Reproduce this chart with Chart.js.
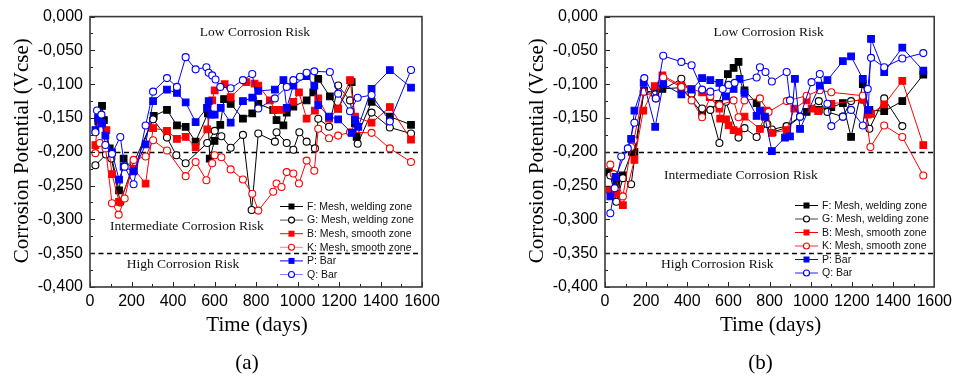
<!DOCTYPE html>
<html>
<head>
<meta charset="utf-8">
<script src="https://cdn.jsdelivr.net/npm/chart.js@4.4.1/dist/chart.umd.min.js"></script>
<style>
  html, body { margin: 0; padding: 0; background: #fff; }
  #wrap { position: relative; width: 957px; height: 378px; }
  canvas { position: absolute; top: 0; }
  #chartA { left: 0; }
  #chartB { left: 478px; }
</style>
</head>
<body>
<div id="wrap">
  <canvas id="chartA" width="478" height="378"></canvas>
  <canvas id="chartB" width="479" height="378"></canvas>
</div>
<script>
// [day, potential (V)]
const F_a = [[40,-0.155],[58,-0.132],[67,-0.153],[95,-0.195],[140,-0.257],[162,-0.210],[210,-0.227],[307,-0.147],[371,-0.138],[419,-0.161],[461,-0.163],[509,-0.185],[568,-0.143],[577,-0.210],[600,-0.184],[628,-0.160],[646,-0.122],[678,-0.129],[737,-0.151],[782,-0.143],[811,-0.129],[883,-0.138],[899,-0.153],[932,-0.161],[948,-0.142],[980,-0.133],[1044,-0.124],[1076,-0.112],[1100,-0.092],[1156,-0.118],[1196,-0.136],[1261,-0.097],[1277,-0.158],[1285,-0.178],[1357,-0.126],[1445,-0.148],[1547,-0.160]];
const G_a = [[26,-0.220],[77,-0.204],[103,-0.210],[146,-0.275],[210,-0.217],[304,-0.152],[371,-0.179],[416,-0.205],[461,-0.217],[565,-0.187],[601,-0.169],[633,-0.177],[678,-0.194],[737,-0.175],[779,-0.286],[811,-0.173],[891,-0.185],[899,-0.171],[948,-0.187],[980,-0.197],[1009,-0.171],[1044,-0.185],[1084,-0.195],[1100,-0.151],[1152,-0.163],[1196,-0.102],[1253,-0.124],[1290,-0.188],[1357,-0.142],[1445,-0.164],[1547,-0.173]];
const B_a = [[26,-0.190],[40,-0.150],[55,-0.158],[79,-0.168],[106,-0.233],[140,-0.274],[210,-0.225],[268,-0.247],[304,-0.165],[371,-0.169],[419,-0.181],[461,-0.178],[509,-0.193],[565,-0.167],[589,-0.124],[601,-0.109],[649,-0.100],[678,-0.119],[753,-0.097],[793,-0.099],[811,-0.102],[867,-0.124],[891,-0.138],[923,-0.138],[980,-0.126],[1007,-0.112],[1044,-0.151],[1084,-0.139],[1100,-0.121],[1152,-0.151],[1196,-0.136],[1253,-0.094],[1277,-0.148],[1357,-0.157],[1445,-0.134],[1547,-0.182]];
const K_a = [[26,-0.202],[47,-0.187],[75,-0.195],[106,-0.276],[138,-0.293],[167,-0.269],[210,-0.212],[268,-0.207],[304,-0.183],[371,-0.198],[461,-0.236],[509,-0.215],[561,-0.242],[589,-0.217],[601,-0.205],[633,-0.208],[678,-0.226],[737,-0.241],[782,-0.262],[811,-0.287],[883,-0.259],[899,-0.247],[923,-0.252],[948,-0.230],[980,-0.232],[1007,-0.247],[1044,-0.213],[1081,-0.228],[1100,-0.166],[1152,-0.180],[1196,-0.176],[1253,-0.171],[1357,-0.172],[1445,-0.195],[1547,-0.215]];
const P_a = [[26,-0.168],[39,-0.150],[58,-0.158],[74,-0.176],[106,-0.201],[140,-0.241],[162,-0.222],[210,-0.229],[268,-0.189],[304,-0.125],[371,-0.108],[419,-0.113],[461,-0.127],[509,-0.156],[564,-0.135],[572,-0.125],[584,-0.145],[601,-0.145],[630,-0.135],[678,-0.157],[737,-0.125],[782,-0.120],[811,-0.110],[891,-0.108],[932,-0.094],[948,-0.135],[980,-0.102],[1044,-0.088],[1081,-0.102],[1100,-0.131],[1152,-0.148],[1196,-0.152],[1261,-0.172],[1277,-0.153],[1293,-0.163],[1357,-0.107],[1445,-0.079],[1547,-0.105]];
const Q_a = [[26,-0.171],[34,-0.139],[55,-0.145],[74,-0.190],[106,-0.203],[146,-0.178],[167,-0.222],[210,-0.248],[268,-0.161],[304,-0.111],[371,-0.091],[419,-0.104],[461,-0.060],[509,-0.078],[561,-0.075],[572,-0.083],[589,-0.087],[605,-0.093],[628,-0.104],[678,-0.106],[737,-0.094],[782,-0.085],[811,-0.136],[891,-0.121],[948,-0.104],[980,-0.094],[1012,-0.089],[1044,-0.083],[1081,-0.081],[1156,-0.082],[1196,-0.114],[1253,-0.140],[1290,-0.120],[1357,-0.116],[1445,-0.155],[1547,-0.079]];

const F_b = [[19,-0.230],[55,-0.248],[87,-0.235],[130,-0.200],[143,-0.200],[190,-0.110],[244,-0.112],[279,-0.107],[371,-0.105],[472,-0.143],[552,-0.129],[597,-0.085],[625,-0.076],[649,-0.067],[678,-0.109],[737,-0.128],[780,-0.148],[814,-0.171],[883,-0.164],[980,-0.141],[1039,-0.138],[1100,-0.134],[1156,-0.128],[1196,-0.178],[1253,-0.100],[1285,-0.138],[1357,-0.140],[1445,-0.125],[1547,-0.086]];
const G_b = [[26,-0.235],[55,-0.274],[87,-0.239],[127,-0.248],[188,-0.111],[244,-0.115],[371,-0.092],[421,-0.114],[472,-0.136],[512,-0.138],[556,-0.187],[588,-0.126],[649,-0.179],[678,-0.165],[737,-0.178],[789,-0.159],[811,-0.167],[883,-0.162],[948,-0.148],[1039,-0.125],[1081,-0.141],[1156,-0.148],[1196,-0.125],[1253,-0.123],[1285,-0.166],[1357,-0.121],[1445,-0.162]];
const B_b = [[22,-0.256],[55,-0.262],[87,-0.279],[143,-0.212],[186,-0.139],[242,-0.103],[279,-0.087],[371,-0.102],[418,-0.107],[472,-0.112],[509,-0.119],[556,-0.136],[560,-0.151],[588,-0.152],[601,-0.161],[625,-0.168],[649,-0.170],[678,-0.148],[753,-0.166],[785,-0.139],[811,-0.172],[883,-0.168],[920,-0.136],[980,-0.124],[1004,-0.136],[1036,-0.140],[1100,-0.129],[1253,-0.123],[1277,-0.145],[1293,-0.144],[1357,-0.130],[1445,-0.095],[1547,-0.190]];
const K_b = [[26,-0.219],[42,-0.233],[87,-0.266],[127,-0.193],[140,-0.183],[188,-0.111],[247,-0.121],[283,-0.090],[371,-0.104],[421,-0.124],[472,-0.149],[512,-0.118],[556,-0.131],[625,-0.124],[649,-0.149],[678,-0.124],[753,-0.121],[795,-0.141],[883,-0.125],[980,-0.117],[1044,-0.109],[1100,-0.112],[1253,-0.117],[1290,-0.193],[1357,-0.161],[1445,-0.178],[1547,-0.235]];
const P_b = [[26,-0.266],[51,-0.237],[127,-0.181],[143,-0.139],[188,-0.098],[244,-0.163],[283,-0.100],[371,-0.115],[421,-0.108],[472,-0.091],[512,-0.094],[556,-0.098],[588,-0.118],[625,-0.107],[654,-0.092],[678,-0.113],[737,-0.147],[753,-0.139],[777,-0.148],[811,-0.199],[875,-0.179],[899,-0.177],[923,-0.092],[948,-0.166],[1044,-0.102],[1081,-0.094],[1156,-0.066],[1196,-0.059],[1253,-0.092],[1280,-0.138],[1293,-0.033],[1357,-0.082],[1445,-0.046],[1547,-0.080]];
const Q_b = [[26,-0.291],[47,-0.254],[79,-0.207],[111,-0.195],[143,-0.157],[191,-0.091],[247,-0.121],[283,-0.058],[371,-0.067],[421,-0.072],[472,-0.108],[512,-0.111],[572,-0.107],[601,-0.101],[630,-0.098],[737,-0.090],[753,-0.075],[780,-0.082],[811,-0.096],[883,-0.082],[899,-0.124],[948,-0.148],[1004,-0.097],[1044,-0.085],[1081,-0.129],[1100,-0.162],[1156,-0.148],[1196,-0.138],[1253,-0.161],[1277,-0.107],[1293,-0.061],[1357,-0.075],[1445,-0.062],[1547,-0.054]];

const seriesNames = ["F: Mesh, welding zone", "G: Mesh, welding zone", "B: Mesh, smooth zone", "K: Mesh, smooth zone", "P: Bar", "Q: Bar"];
const seriesColors = ["#000000", "#000000", "#ff0000", "#ff0000", "#0000ff", "#0000ff"];
const seriesFilled = [true, false, true, false, true, false];
const riskLines = [-0.2, -0.35];
const yTicks = { min: -0.4, max: 0, step: 0.05 };
const xTicks = { min: 0, max: 1600, step: 200 };

const serif = "'Liberation Serif', 'Times New Roman', serif";
const sans = "'Liberation Sans', Arial, sans-serif";

function fmtY(v) {
  const s = Math.abs(v).toFixed(3).replace('.', ',');
  return (v < -1e-9 ? '-' : '') + s;
}

function makeDatasets(groups) {
  return groups.map((pts, i) => ({
    label: seriesNames[i],
    data: pts.map(p => ({ x: p[0], y: p[1] })),
    borderColor: seriesColors[i],
    backgroundColor: seriesColors[i],
    borderWidth: 1,
    pointStyle: seriesFilled[i] ? 'rect' : 'circle',
    pointRadius: seriesFilled[i] ? 4.7 : 3.5,
    pointBorderWidth: 1.1,
    pointBackgroundColor: seriesFilled[i] ? seriesColors[i] : '#ffffff',
    pointBorderColor: seriesColors[i],
    tension: 0,
    order: 5 - i
  }));
}

// draws frame, inward ticks, risk lines, labels, legend and titles
function decorations(opts) {
  return {
    id: 'decor',
    beforeDatasetsDraw(chart) {
      const ctx = chart.ctx, ca = chart.chartArea, ys = chart.scales.y;
      ctx.save();
      ctx.strokeStyle = '#000';
      ctx.lineWidth = 1.3;
      ctx.setLineDash([5, 3.5]);
      riskLines.forEach(v => {
        const y = Math.round(ys.getPixelForValue(v)) + 0.5;
        ctx.beginPath(); ctx.moveTo(ca.left, y); ctx.lineTo(ca.right, y); ctx.stroke();
      });
      ctx.restore();
    },
    afterDraw(chart) {
      const ctx = chart.ctx, ca = chart.chartArea, xs = chart.scales.x, ys = chart.scales.y;
      ctx.save();
      // ticks
      ctx.strokeStyle = '#222';
      ctx.lineWidth = 1;
      for (let v = yTicks.min; v <= yTicks.max + 1e-9; v += yTicks.step / 2) {
        const major = Math.abs(Math.round(v / yTicks.step) * yTicks.step - v) < 1e-6;
        const y = Math.round(ys.getPixelForValue(v)) + 0.5;
        ctx.beginPath(); ctx.moveTo(ca.left, y); ctx.lineTo(ca.left + (major ? 5 : 3), y); ctx.stroke();
      }
      for (let v = xTicks.min; v <= xTicks.max; v += xTicks.step / 2) {
        const major = v % xTicks.step === 0;
        const x = Math.round(xs.getPixelForValue(v)) + 0.5;
        ctx.beginPath(); ctx.moveTo(x, ca.bottom); ctx.lineTo(x, ca.bottom - (major ? 5 : 3)); ctx.stroke();
      }
      // frame
      ctx.strokeStyle = '#3a3a3a';
      ctx.lineWidth = 1.6;
      ctx.strokeRect(ca.left, ca.top, ca.right - ca.left, ca.bottom - ca.top);

      // risk zone labels
      ctx.fillStyle = '#111';
      ctx.font = '13.5px ' + serif;
      ctx.textAlign = 'center';
      ctx.textBaseline = 'middle';
      opts.zones.forEach(z => {
        ctx.fillText(z.text, xs.getPixelForValue(z.x), ys.getPixelForValue(z.y));
      });

      // legend
      ctx.font = '10.5px ' + sans;
      ctx.textAlign = 'left';
      chart.data.datasets.forEach((ds, i) => {
        const y = opts.legend.y + i * opts.legend.dy;
        const lx = opts.legend.x;
        ctx.strokeStyle = opts.legend.lineColors ? opts.legend.lineColors[i] : ds.borderColor;
        ctx.lineWidth = 1;
        ctx.beginPath(); ctx.moveTo(lx, y + 0.5); ctx.lineTo(lx + 23, y + 0.5); ctx.stroke();
        const mx = lx + 11.5;
        ctx.strokeStyle = ds.pointBorderColor;
        ctx.fillStyle = ds.pointBackgroundColor;
        ctx.lineWidth = 1.1;
        if (ds.pointStyle === 'rect') {
          ctx.fillRect(mx - 3, y - 2.5, 6, 6);
        } else {
          ctx.beginPath(); ctx.arc(mx, y + 0.5, 3, 0, Math.PI * 2); ctx.fill(); ctx.stroke();
        }
        ctx.fillStyle = '#111';
        ctx.fillText(ds.label, lx + 27, y + 1);
      });

      // axis titles and panel label
      ctx.fillStyle = '#000';
      ctx.font = '21px ' + serif;
      ctx.textAlign = 'center';
      ctx.textBaseline = 'alphabetic';
      ctx.fillText('Time (days)', (ca.left + ca.right) / 2 + 1, 331);
      ctx.fillText(opts.panel, (ca.left + ca.right) / 2 - 9, 369);
      ctx.save();
      ctx.translate(ca.left - 68, (ca.top + ca.bottom) / 2 - 1);
      ctx.rotate(-Math.PI / 2);
      ctx.textBaseline = 'middle';
      ctx.fillText('Corrosion Potential (Vcse)', 0, 0);
      ctx.restore();
      ctx.restore();
    }
  };
}

function buildChart(canvasId, groups, yWidth, rightPad, opts) {
  return new Chart(document.getElementById(canvasId), {
    type: 'line',
    data: { datasets: makeDatasets(groups) },
    options: {
      responsive: false,
      animation: false,
      layout: { padding: { left: 0, right: rightPad, top: 16, bottom: 0 } },
      plugins: { legend: { display: false }, tooltip: { enabled: false } },
      scales: {
        x: {
          type: 'linear',
          min: xTicks.min, max: xTicks.max,
          grid: { display: false, drawTicks: false },
          border: { display: false },
          ticks: {
            stepSize: xTicks.step, autoSkip: false, maxRotation: 0, padding: 5,
            color: '#000', font: { family: sans, size: 16 },
            callback: v => String(v)
          },
          afterFit: s => { s.height = 91; }
        },
        y: {
          type: 'linear',
          min: yTicks.min, max: yTicks.max,
          grid: { display: false, drawTicks: false },
          border: { display: false },
          ticks: {
            stepSize: yTicks.step, padding: 7,
            color: '#000', font: { family: sans, size: 16 },
            callback: v => fmtY(v)
          },
          afterFit: s => { s.width = yWidth; }
        }
      }
    },
    plugins: [decorations(opts)]
  });
}

buildChart('chartA', [F_a, G_a, B_a, K_a, P_a, Q_a], 90, 56, {
  panel: '(a)',
  zones: [
    { text: 'Low Corrosion Risk', x: 795, y: -0.024 },
    { text: 'Intermediate Corrosion Risk', x: 467, y: -0.310 },
    { text: 'High Corrosion Risk', x: 448, y: -0.366 }
  ],
  legend: { x: 280, y: 206, dy: 13.6, lineColors: ['#000', '#555', '#ff0000', '#ff8080', '#0000ff', '#8080ff'] }
});

buildChart('chartB', [F_b, G_b, B_b, K_b, P_b, Q_b], 127, 20, {
  panel: '(b)',
  zones: [
    { text: 'Low Corrosion Risk', x: 795, y: -0.024 },
    { text: 'Intermediate Corrosion Risk', x: 660, y: -0.235 },
    { text: 'High Corrosion Risk', x: 545, y: -0.366 }
  ],
  legend: { x: 795 - 478, y: 205, dy: 13.5, lineColors: ['#000', '#444', '#ff0000', '#ff3030', '#0000ff', '#2020ff'] }
});
</script>
</body>
</html>
